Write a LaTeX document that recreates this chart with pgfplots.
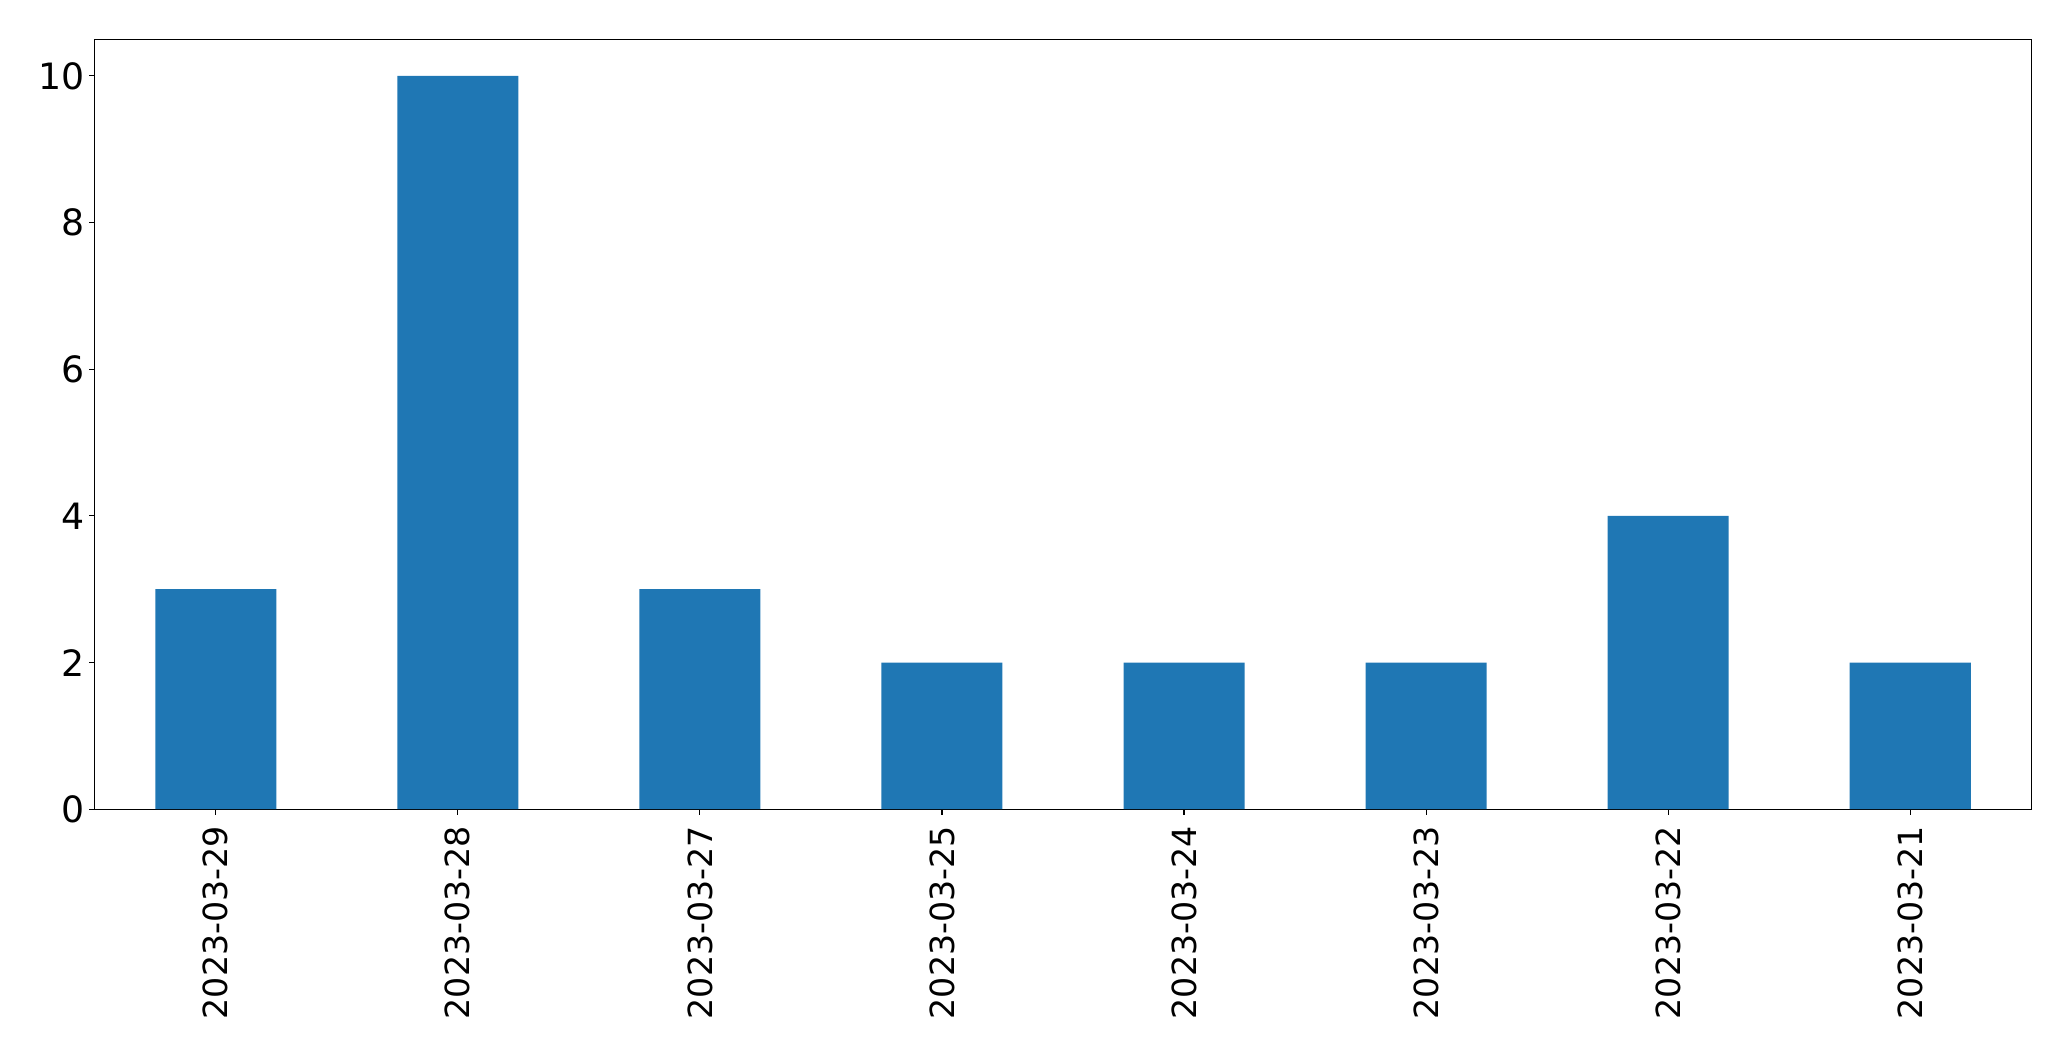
\documentclass[border=0pt]{standalone}
\usepackage{fontspec}
\setmainfont{DejaVu Sans}
\usepackage{pgfplots}
\pgfplotsset{compat=1.18}
\usetikzlibrary{calc}
\definecolor{mplblue}{HTML}{1F77B4}
\begin{document}
\begin{tikzpicture}
\begin{axis}[
  scale only axis,
  width=774.6pt, height=308pt,
  xmin=-0.5, xmax=7.5, ymin=0, ymax=10.5,
  ybar, bar width=0.5,
  xtick={0,1,2,3,4,5,6,7},
  xticklabels={2023-03-29,2023-03-28,2023-03-27,2023-03-25,2023-03-24,2023-03-23,2023-03-22,2023-03-21},
  ytick={0,2,4,6,8,10},
  tick align=outside,
  major tick length=2.2pt,
  tick style={black, line width=0.44pt},
  axis line style={line width=0.44pt},
  xtick pos=bottom, ytick pos=left,
  /pgf/number format/assume math mode=true,
  xticklabel style={font=\fontsize{13.3}{15}\selectfont, rotate=90, anchor=east, inner sep=0pt, outer sep=0pt},
  yticklabel style={font=\fontsize{14.5}{17}\selectfont, inner sep=0pt, outer sep=0pt},
  xticklabel shift=4.5pt,
  yticklabel shift=2.0pt,
]
\addplot[fill=mplblue, draw=none] coordinates {(0,3) (1,10) (2,3) (3,2) (4,2) (5,2) (6,4) (7,2)};
\end{axis}
\path ($(current axis.south west)+(-37.9pt,-100.7pt)$) rectangle ($(current axis.north east)+(15.9pt,15.7pt)$);
\end{tikzpicture}
\end{document}
